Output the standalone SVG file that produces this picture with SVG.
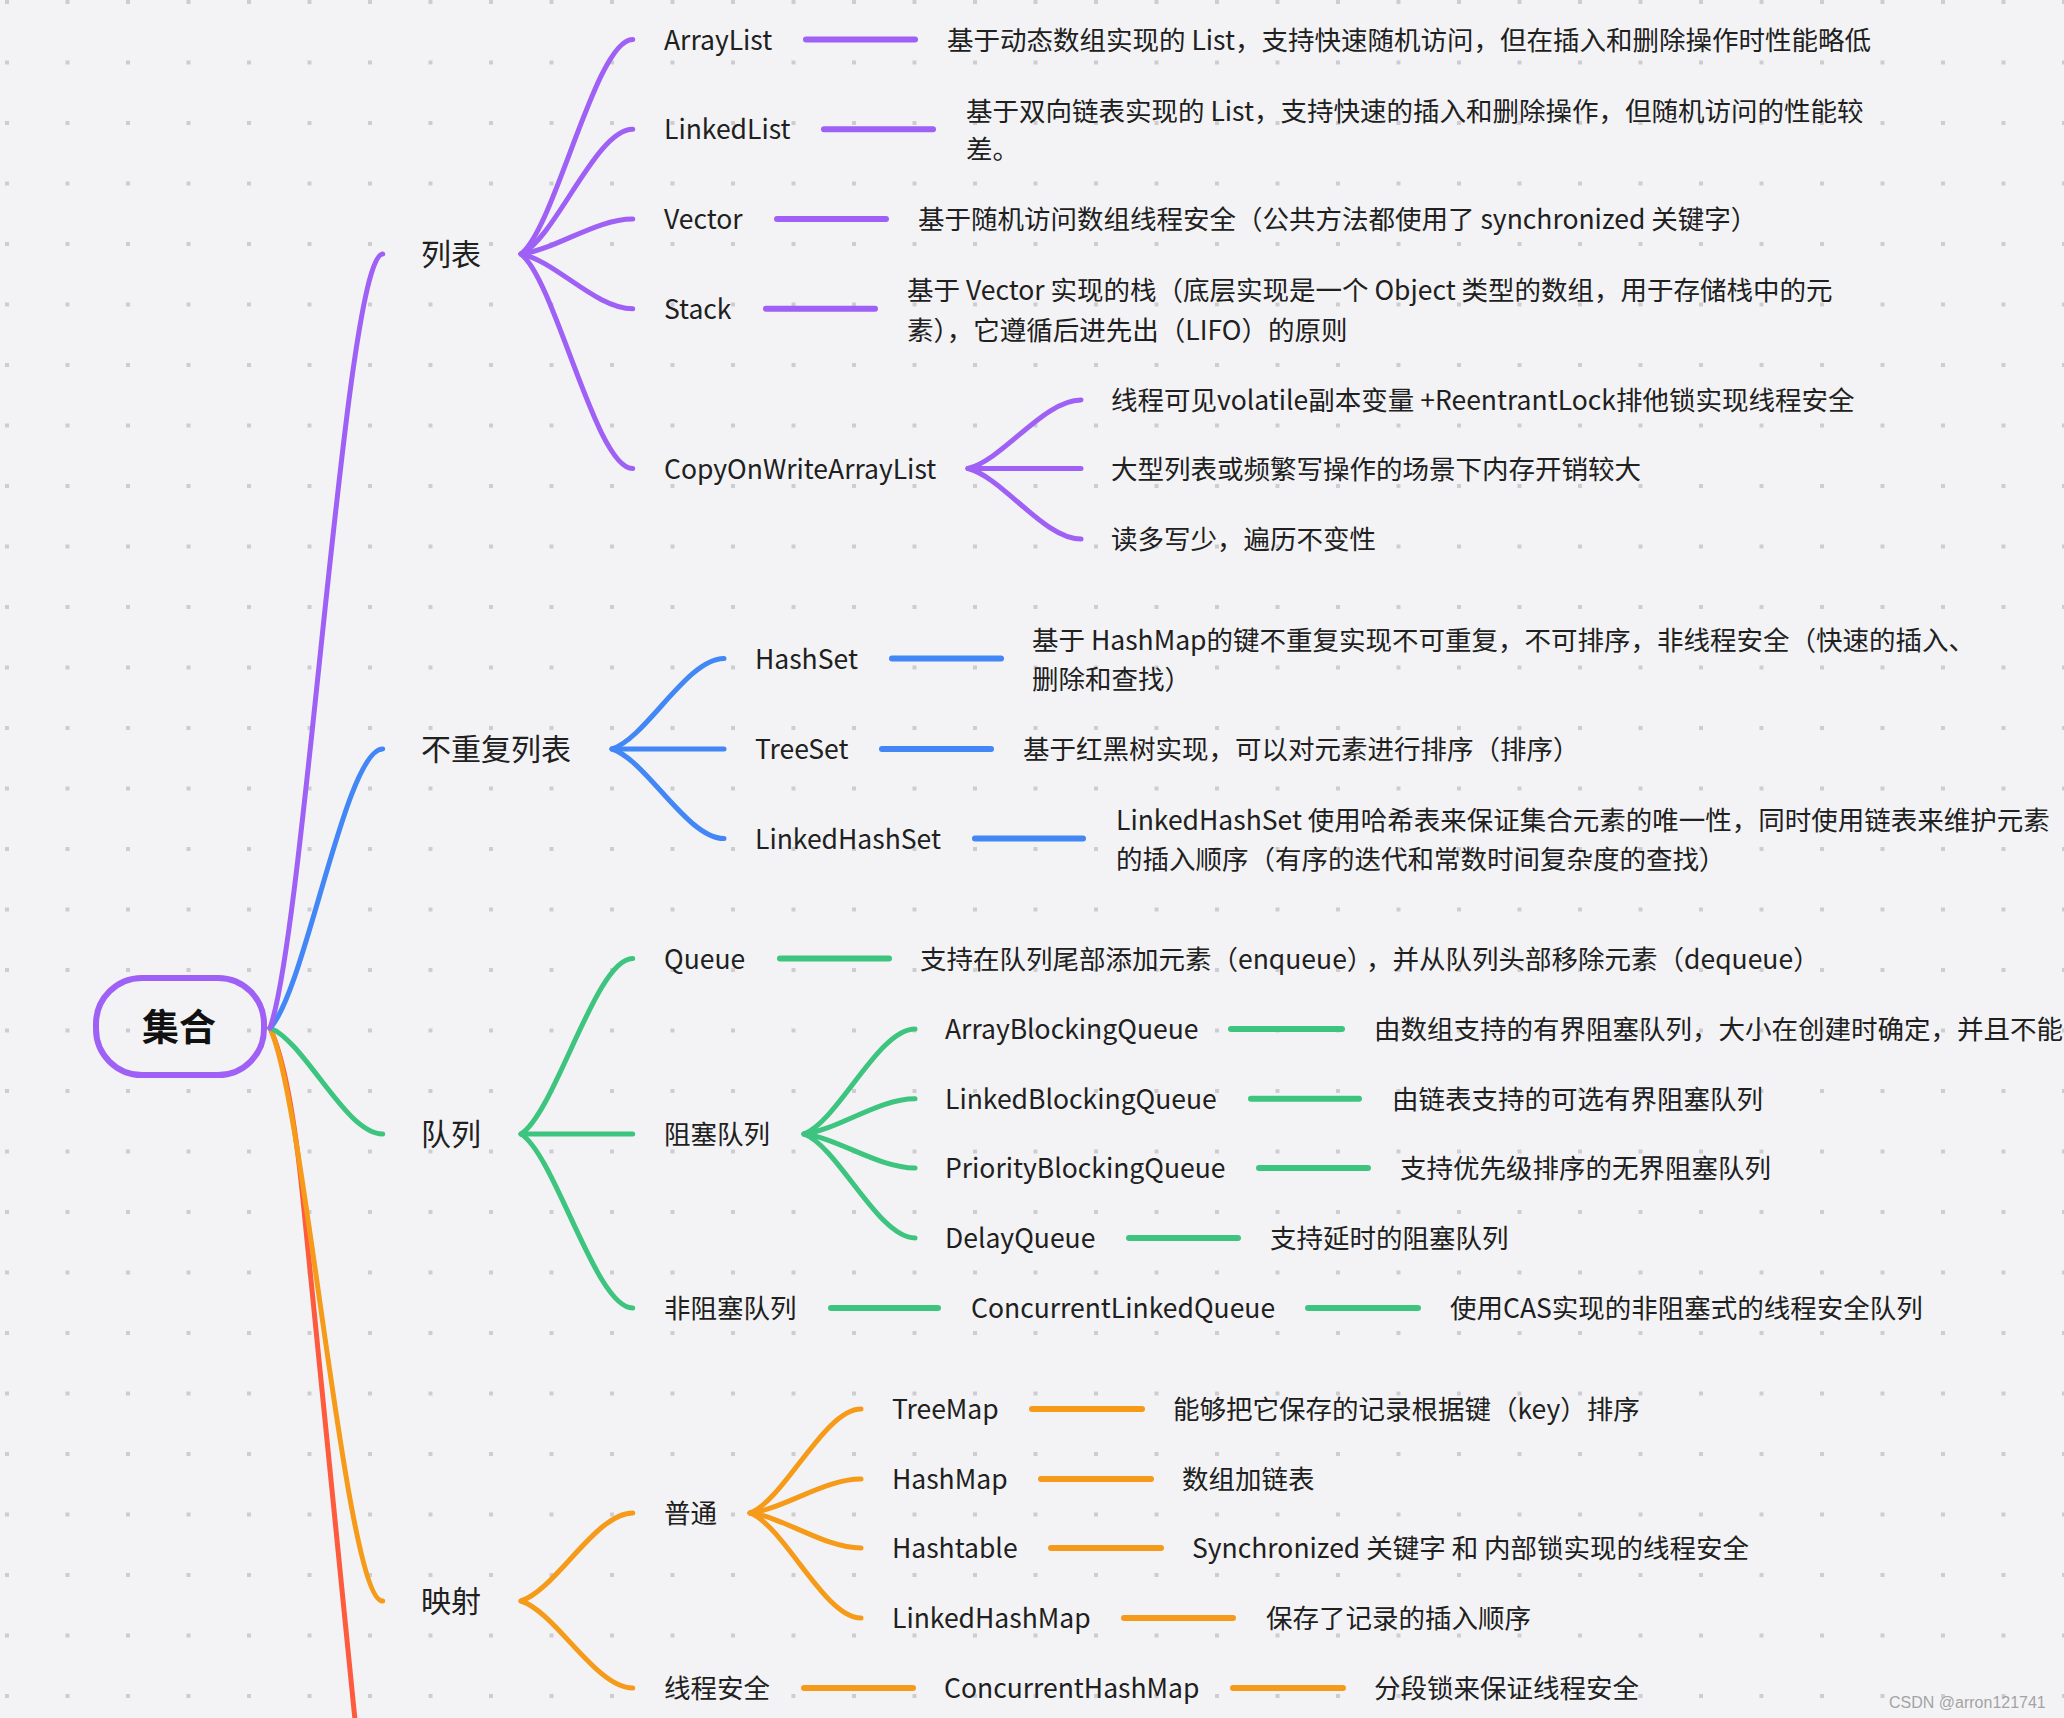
<svg xmlns="http://www.w3.org/2000/svg" width="2064" height="1718" viewBox="0 0 2064 1718">
<defs>
<pattern id="dots" patternUnits="userSpaceOnUse" x="5" y="0" width="60.5" height="60.5">
<rect x="0" y="0" width="4" height="4" fill="#cdcdd1"/>
</pattern>
<style>
text{font-family:"Noto Sans CJK SC","Noto Sans",sans-serif;fill:#202020}
.l1{font-size:30px}
.t{font-size:26.5px}
.root{font-size:37px;font-weight:bold;fill:#111}
.c{fill:none;stroke-width:5;stroke-linecap:round}
.h{fill:none;stroke-width:6;stroke-linecap:round}
.pu{stroke:#9f60f6}.bl{stroke:#4386f6}.gr{stroke:#3dc57f}.or{stroke:#f69a1a}.rd{stroke:#fd5a3e}
.wm{font-family:"Liberation Sans",Arial,sans-serif;font-size:16px;fill:#a3a3a3}
</style>
</defs>
<rect width="2064" height="1718" fill="#f3f3f5"/>
<rect width="2064" height="1718" fill="url(#dots)"/>

<g id="connectors">
<path class="c rd" d="M270 1028 C285 1060 295 1120 303 1200 L362 1790"/>
<path class="c or" d="M270 1028 C304.9 1100.2 345.5 1601 382.7 1601"/>
<path class="c gr" d="M270 1028 C304.9 1041.4 345.5 1134 382.7 1134"/>
<path class="c bl" d="M270 1028 C304.9 992.8 345.5 749 382.7 749"/>
<path class="c pu" d="M270 1028 C304.9 930.5 345.5 254 382.7 254"/>

<path class="c pu" d="M521 254 C555.6 227 595.8 39.5 632.7 39.5"/>
<path class="c pu" d="M521 254 C555.6 238.3 595.8 129.3 632.7 129.3"/>
<path class="c pu" d="M521 254 C555.6 249.6 595.8 219 632.7 219"/>
<path class="c pu" d="M521 254 C555.6 260.9 595.8 308.7 632.7 308.7"/>
<path class="c pu" d="M521 254 C555.6 281 595.8 468.5 632.7 468.5"/>
<path class="c pu" d="M968 468.5 C1003 459.9 1043.7 400 1081 400"/>
<path class="c pu" d="M968 468.5 L1081 468.5"/>
<path class="c pu" d="M968 468.5 C1003 477.4 1043.7 539 1081 539"/>
<line class="h pu" x1="806" y1="39.5" x2="915" y2="39.5"/>
<line class="h pu" x1="824" y1="129.3" x2="933" y2="129.3"/>
<line class="h pu" x1="777" y1="219" x2="886" y2="219"/>
<line class="h pu" x1="766" y1="308.7" x2="875" y2="308.7"/>

<path class="c bl" d="M612 749 C646.7 737.6 687 658.5 724 658.5"/>
<path class="c bl" d="M612 749 L724 749"/>
<path class="c bl" d="M612 749 C646.7 760.3 687 838.5 724 838.5"/>
<line class="h bl" x1="892" y1="658.5" x2="1001" y2="658.5"/>
<line class="h bl" x1="882" y1="749" x2="991" y2="749"/>
<line class="h bl" x1="975" y1="838.5" x2="1083" y2="838.5"/>

<path class="c gr" d="M521 1134 C555.6 1111.9 595.8 958.6 632.7 958.6"/>
<path class="c gr" d="M521 1134 L632.7 1134"/>
<path class="c gr" d="M521 1134 C555.6 1155.9 595.8 1308 632.7 1308"/>
<path class="c gr" d="M804 1134 C838.4 1120.8 878.4 1029 915 1029"/>
<path class="c gr" d="M804 1134 C838.4 1129.6 878.4 1098.7 915 1098.7"/>
<path class="c gr" d="M804 1134 C838.4 1138.3 878.4 1168 915 1168"/>
<path class="c gr" d="M804 1134 C838.4 1147.1 878.4 1238 915 1238"/>
<line class="h gr" x1="780" y1="958.6" x2="889" y2="958.6"/>
<line class="h gr" x1="1231" y1="1029" x2="1342" y2="1029"/>
<line class="h gr" x1="1251" y1="1098.7" x2="1359" y2="1098.7"/>
<line class="h gr" x1="1259" y1="1168" x2="1368" y2="1168"/>
<line class="h gr" x1="1129" y1="1238" x2="1238" y2="1238"/>
<line class="h gr" x1="831" y1="1308" x2="938" y2="1308"/>
<line class="h gr" x1="1308" y1="1308" x2="1418" y2="1308"/>

<path class="c or" d="M521 1601 C555.6 1589.9 595.8 1513 632.7 1513"/>
<path class="c or" d="M521 1601 C555.6 1612 595.8 1688 632.7 1688"/>
<path class="c or" d="M750 1513 C784.4 1499.9 824.4 1409 861 1409"/>
<path class="c or" d="M750 1513 C784.4 1508.7 824.4 1479 861 1479"/>
<path class="c or" d="M750 1513 C784.4 1517.4 824.4 1548 861 1548"/>
<path class="c or" d="M750 1513 C784.4 1526.2 824.4 1618 861 1618"/>
<line class="h or" x1="1032" y1="1409" x2="1142" y2="1409"/>
<line class="h or" x1="1041" y1="1479" x2="1151" y2="1479"/>
<line class="h or" x1="1051" y1="1548" x2="1161" y2="1548"/>
<line class="h or" x1="1124" y1="1618" x2="1233" y2="1618"/>
<line class="h or" x1="804" y1="1688" x2="913" y2="1688"/>
<line class="h or" x1="1233" y1="1688" x2="1343" y2="1688"/>
</g>

<g id="root">
<rect x="96" y="978" width="168" height="97" rx="46" fill="none" stroke="#9f60f6" stroke-width="6"/>
<text class="root" x="179" y="1040.5" text-anchor="middle">集合</text>
</g>

<g id="n-list"><text class="l1" x="421" y="265">列表</text></g>
<g id="n-arraylist"><text class="t" x="664" y="49.5">ArrayList</text></g>
<g id="d-arraylist"><text class="t" x="947" y="49.5">基于动态数组实现的 List，支持快速随机访问，但在插入和删除操作时性能略低</text></g>
<g id="n-linkedlist"><text class="t" x="664" y="139.3">LinkedList</text></g>
<g id="d-linkedlist"><text class="t" x="966"><tspan x="966" y="120.5">基于双向链表实现的 List，支持快速的插入和删除操作，但随机访问的性能较</tspan><tspan x="966" y="159">差。</tspan></text></g>
<g id="n-vector"><text class="t" x="664" y="229">Vector</text></g>
<g id="d-vector"><text class="t" x="918" y="229">基于随机访问数组线程安全（公共方法都使用了 synchronized 关键字）</text></g>
<g id="n-stack"><text class="t" x="664" y="318.7">Stack</text></g>
<g id="d-stack"><text class="t" x="907"><tspan x="907" y="300">基于 Vector 实现的栈（底层实现是一个 Object 类型的数组，用于存储栈中的元</tspan><tspan x="907" y="339.5">素），它遵循后进先出（LIFO）的原则</tspan></text></g>
<g id="n-cow"><text class="t" x="664" y="478.5">CopyOnWriteArrayList</text></g>
<g id="n-cow-1"><text class="t" x="1111" y="410">线程可见volatile副本变量 +ReentrantLock排他锁实现线程安全</text></g>
<g id="n-cow-2"><text class="t" x="1111" y="479">大型列表或频繁写操作的场景下内存开销较大</text></g>
<g id="n-cow-3"><text class="t" x="1111" y="549">读多写少，遍历不变性</text></g>

<g id="n-set"><text class="l1" x="421" y="760">不重复列表</text></g>
<g id="n-hashset"><text class="t" x="755" y="668.5">HashSet</text></g>
<g id="d-hashset"><text class="t" x="1032"><tspan x="1032" y="649.5">基于 HashMap的键不重复实现不可重复，不可排序，非线程安全（快速的插入、</tspan><tspan x="1032" y="688.5">删除和查找）</tspan></text></g>
<g id="n-treeset"><text class="t" x="755" y="759">TreeSet</text></g>
<g id="d-treeset"><text class="t" x="1023" y="759">基于红黑树实现，可以对元素进行排序（排序）</text></g>
<g id="n-linkedhashset"><text class="t" x="755" y="848.5">LinkedHashSet</text></g>
<g id="d-linkedhashset"><text class="t" x="1116"><tspan x="1116" y="830">LinkedHashSet 使用哈希表来保证集合元素的唯一性，同时使用链表来维护元素</tspan><tspan x="1116" y="869">的插入顺序（有序的迭代和常数时间复杂度的查找）</tspan></text></g>

<g id="n-queue-root"><text class="l1" x="421" y="1145">队列</text></g>
<g id="n-queue"><text class="t" x="664" y="968.6">Queue</text></g>
<g id="d-queue"><text class="t" x="920" y="968.6">支持在队列尾部添加元素（enqueue）<tspan dx="6">，并从队列头部移除元素（dequeue）</tspan></text></g>
<g id="n-blocking"><text class="t" x="664" y="1144">阻塞队列</text></g>
<g id="n-abq"><text class="t" x="945" y="1039">ArrayBlockingQueue</text></g>
<g id="d-abq"><text class="t" x="1374" y="1039">由数组支持的有界阻塞队列，大小在创建时确定，并且不能</text></g>
<g id="n-lbq"><text class="t" x="945" y="1108.7">LinkedBlockingQueue</text></g>
<g id="d-lbq"><text class="t" x="1392" y="1108.7">由链表支持的可选有界阻塞队列</text></g>
<g id="n-pbq"><text class="t" x="945" y="1178">PriorityBlockingQueue</text></g>
<g id="d-pbq"><text class="t" x="1400" y="1178">支持优先级排序的无界阻塞队列</text></g>
<g id="n-dq"><text class="t" x="945" y="1248">DelayQueue</text></g>
<g id="d-dq"><text class="t" x="1270" y="1248">支持延时的阻塞队列</text></g>
<g id="n-nonblocking"><text class="t" x="664" y="1318">非阻塞队列</text></g>
<g id="n-clq"><text class="t" x="971" y="1318">ConcurrentLinkedQueue</text></g>
<g id="d-clq"><text class="t" x="1450" y="1318">使用CAS实现的非阻塞式的线程安全队列</text></g>

<g id="n-map"><text class="l1" x="421" y="1612">映射</text></g>
<g id="n-normal"><text class="t" x="664" y="1523">普通</text></g>
<g id="n-treemap"><text class="t" x="892" y="1419">TreeMap</text></g>
<g id="d-treemap"><text class="t" x="1173" y="1419">能够把它保存的记录根据键（key）排序</text></g>
<g id="n-hashmap"><text class="t" x="892" y="1489">HashMap</text></g>
<g id="d-hashmap"><text class="t" x="1182" y="1489">数组加链表</text></g>
<g id="n-hashtable"><text class="t" x="892" y="1558">Hashtable</text></g>
<g id="d-hashtable"><text class="t" x="1192" y="1558">Synchronized 关键字 和 内部锁实现的线程安全</text></g>
<g id="n-lhm"><text class="t" x="892" y="1628">LinkedHashMap</text></g>
<g id="d-lhm"><text class="t" x="1266" y="1628">保存了记录的插入顺序</text></g>
<g id="n-safe"><text class="t" x="664" y="1698">线程安全</text></g>
<g id="n-chm"><text class="t" x="944" y="1698">ConcurrentHashMap</text></g>
<g id="d-chm"><text class="t" x="1374" y="1698">分段锁来保证线程安全</text></g>

<text class="wm" x="1889" y="1708">CSDN @arron121741</text>
</svg>
